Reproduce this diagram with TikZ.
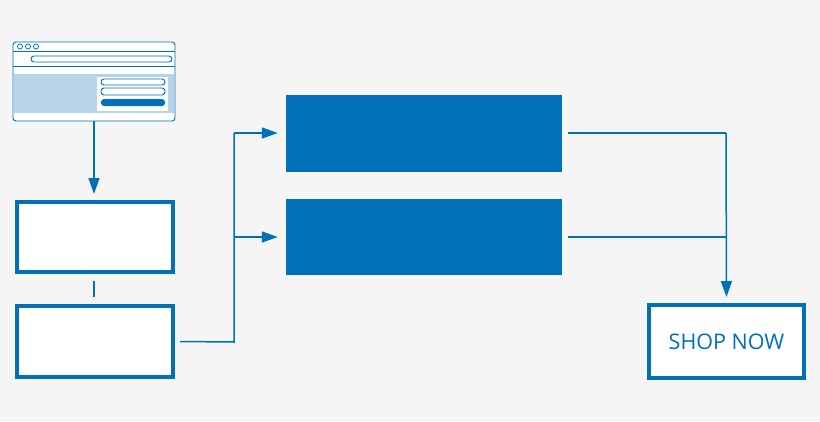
\documentclass[tikz,border=0pt]{standalone}
\usepackage{fontspec}
\setmainfont{Open Sans}
\usetikzlibrary{arrows.meta}
\definecolor{bl}{HTML}{0070BA}
\definecolor{lb}{HTML}{B8D4E8}
\definecolor{bg}{HTML}{F5F5F5}
\tikzset{box/.style={draw=bl,line width=4pt,fill=white},
 solid/.style={fill=bl},
 conn/.style={draw=bl,line width=1.5pt},
 arr/.style={conn,-{Triangle[length=16pt,width=11pt]}},
 thin/.style={draw=bl,line width=0.9pt}}
\begin{document}
\begin{tikzpicture}[x=1pt,y=-1pt]
\fill[bg] (0,0) rectangle (820,421);
\useasboundingbox (0,0) rectangle (820,421);
% browser
\fill[white] (13,42) rectangle (175,121);
\fill[lb] (14,74) rectangle (174,113);
\fill[white] (97,77) rectangle (168,111);
\draw[thin,rounded corners=3pt] (13,42) rectangle (175,121);
\node[coordinate] (brtop) at (94,121) {};
\draw[thin] (13,51) -- (175,51);
\draw[thin] (13,66) -- (175,66);
\foreach \x in {20,28,36} \draw[thin,line width=0.8pt] (\x,46.5) circle (2.5pt);
\draw[thin,rounded corners=3pt] (31,56) rectangle (172,62);
\draw[thin,rounded corners=3pt] (101,79) rectangle (165,85);
\draw[thin,rounded corners=3pt] (101,88) rectangle (165,95);
\fill[bl,rounded corners=3pt] (101,99) rectangle (165,106);
% boxes
\node[box,minimum width=156pt,minimum height=70pt] (b1) at (95,237) {};
\node[box,minimum width=156pt,minimum height=71pt] (b2) at (95,341.5) {};
\node[solid,minimum width=276pt,minimum height=77pt] (r1) at (424,133.5) {};
\node[solid,minimum width=276pt,minimum height=76pt] (r2) at (424,237) {};
\node[box,minimum width=155pt,minimum height=73pt,text=bl,font=\fontsize{21.5}{24}\selectfont] (sn) at (726.5,341.5) {SHOP NOW};
\draw[arr] (brtop) -- ([yshift=6pt]b1.north -| brtop);
\draw[conn] ([yshift=-7pt]b1.south -| brtop) -- ([yshift=7pt]b2.north -| brtop);
\coordinate (j) at (234,237);
\draw[conn] ([xshift=5pt]b2.east) -- (234,342) -- (234,133);
\draw[arr] (234,133) -- ([xshift=-8pt]r1.west |- 0,133);
\draw[arr] (j) -- ([xshift=-8pt]r2.west |- j);
\draw[conn] ([xshift=6pt]r1.east |- 0,133) -- (726,133);
\draw[arr] (726,133) -- ([yshift=6pt]sn.north);
\draw[conn] ([xshift=6pt]r2.east |- j) -- (726,237);
\end{tikzpicture}
\end{document}
